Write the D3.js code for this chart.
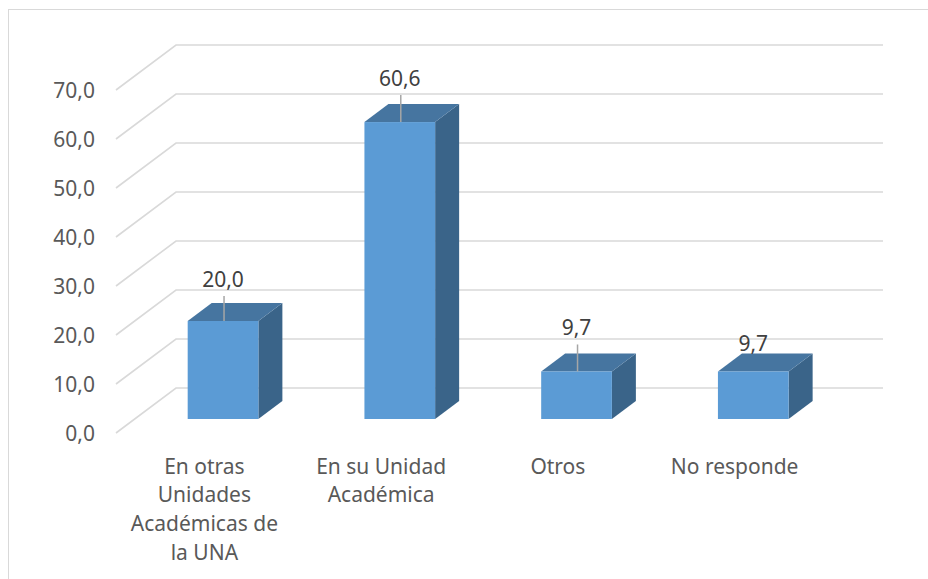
<!DOCTYPE html>
<html><head><meta charset="utf-8">
<script src="https://cdn.jsdelivr.net/npm/d3@7"></script>
<style>body{margin:0;background:#fff}svg{display:block}</style>
</head><body>
<svg id="chart" width="928" height="579"></svg>
<script>
const categories = [
  ["En otras","Unidades","Académicas de","la UNA"],
  ["En su Unidad","Académica"],
  ["Otros"],
  ["No responde"]
];
const categoryKeys = ["En otras Unidades Académicas de la UNA","En su Unidad Académica","Otros","No responde"];
const values = [20.0, 60.6, 9.7, 9.7];
const yTicks = [0,10,20,30,40,50,60,70];

const svg = d3.select("#chart");
const font = "'Noto Sans', sans-serif";
const locale = d3.formatLocale({decimal:",", thousands:".", grouping:[3], currency:["",""]});
const fmt = locale.format(".1f");

// layout
const frontLeft = 116, frontRight = 823;
const depth = {dx:60, dy:-45};
const barFront = 0.311, barBack = 0.711;

const y = d3.scaleLinear().domain([0,70]).range([433, 90]);
const x = d3.scaleBand().domain(categoryKeys).range([frontLeft, frontRight]).paddingInner(0.6).paddingOuter(0.3);
const xc = d3.scaleBand().domain(categoryKeys).range([frontLeft, frontRight]);

// outer border
svg.append("rect").attr("x",8.5).attr("y",9.5).attr("width",1000).attr("height",1000)
  .attr("fill","none").attr("stroke","#d9d9d9").attr("stroke-width",1);

// gridlines
const grid = svg.append("g");
yTicks.forEach(t=>{
  const yf = y(t), yb = y(t)+depth.dy;
  grid.append("path")
    .attr("d", `M${frontLeft},${yf}L${frontLeft+depth.dx},${yb}L${frontRight+depth.dx},${yb}`)
    .attr("fill","none").attr("stroke","#d9d9d9").attr("stroke-width",1.6);
});

// tick labels
svg.append("g").selectAll("text").data(yTicks).join("text")
  .attr("x", 95).attr("y", d=>y(d)).attr("dy","0.36em")
  .attr("text-anchor","end").attr("font-family",font).attr("font-size",21)
  .attr("fill","#595959").text(d=>fmt(d));

// bars
const bars = svg.append("g");
const fx = barFront*depth.dx, fy = barFront*depth.dy;
const dd = {dx:(barBack-barFront)*depth.dx, dy:(barBack-barFront)*depth.dy};
categoryKeys.forEach((k,i)=>{
  const x0 = x(k)+fx, x1 = x0 + x.bandwidth();
  const yb = y(0)+fy, yt = y(values[i])+fy;
  // side
  bars.append("path").attr("d",`M${x1},${yb}L${x1+dd.dx},${yb+dd.dy}L${x1+dd.dx},${yt+dd.dy}L${x1},${yt}Z`)
    .attr("fill","#3a6489");
  // top
  bars.append("path").attr("d",`M${x0},${yt}L${x0+dd.dx},${yt+dd.dy}L${x1+dd.dx},${yt+dd.dy}L${x1},${yt}Z`)
    .attr("fill","#4675a0");
  // front
  bars.append("rect").attr("x",x0).attr("y",yt).attr("width",x1-x0).attr("height",yb-yt)
    .attr("fill","#5b9bd5");
});

// value labels
const labelLift = [42,44,44,28];
const labels = svg.append("g");
categoryKeys.forEach((k,i)=>{
  const cx = x(k)+fx + x.bandwidth()/2;
  const yt = y(values[i])+fy;
  const ly = yt - labelLift[i];
  if (labelLift[i] > 35) {
    labels.append("line").attr("x1",cx+1).attr("x2",cx+1).attr("y1",ly+17).attr("y2",yt)
      .attr("stroke","#a6a6a6").attr("stroke-width",1.5);
  }
  labels.append("text").attr("x",cx).attr("y",ly).attr("dy","0.36em")
    .attr("text-anchor","middle").attr("font-family",font).attr("font-size",21)
    .attr("fill","#404040").text(fmt(values[i]));
});

// category labels
const cat = svg.append("g");
categoryKeys.forEach((k,i)=>{
  const cx = xc(k) + xc.bandwidth()/2;
  const t = cat.append("text").attr("text-anchor","middle").attr("font-family",font)
    .attr("font-size",21).attr("fill","#595959");
  categories[i].forEach((line,j)=>{
    t.append("tspan").attr("x",cx).attr("y",466 + j*28.7).attr("dy","0.36em").text(line);
  });
});
</script>
</body></html>
